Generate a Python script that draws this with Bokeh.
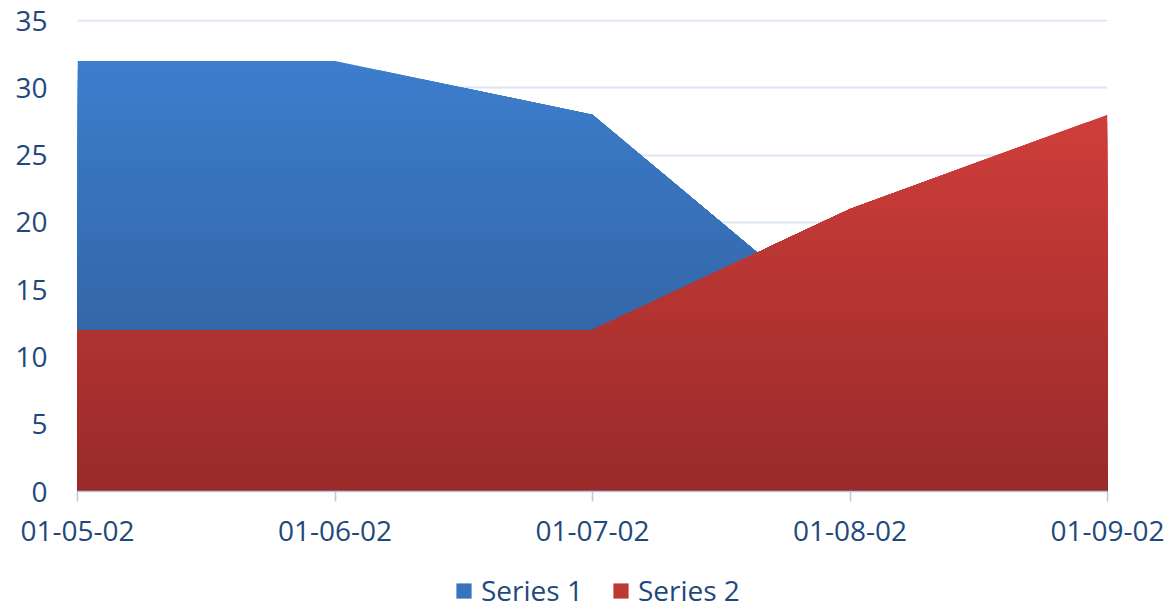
from bokeh.plotting import figure
from bokeh.layouts import column
from bokeh.models import Range1d, FixedTicker, Legend, LegendItem
from bokeh.embed import file_html
from bokeh.resources import INLINE

# ---- data ----
dates = ["01-05-02", "01-06-02", "01-07-02", "01-08-02", "01-09-02"]
series1 = [32, 32, 28, 12, 15]
series2 = [12, 12, 12, 21, 28]
series_names = ["Series 1", "Series 2"]
y_ticks = [0, 5, 10, 15, 20, 25, 30, 35]

# ---- style ----
FONT = "Open Sans"
TEXT = "#1F497D"
GRID = "#DCE6F2"
AXIS = "#B9C8DD"
# gradient (top colour, bottom colour) for each series
GRADS = [((60, 126, 205), (46, 89, 146)), ((207, 62, 58), (152, 42, 42))]
LEGEND_COLORS = ["#3873BE", "#BE3836"]
N_BANDS = 48

x = list(range(len(dates)))

p = figure(width=1168, height=560, output_backend="svg", toolbar_location=None,
           x_range=Range1d(0, len(dates) - 1), y_range=Range1d(0, 35.08),
           min_border_left=77, min_border_right=61, min_border_top=19,
           min_border_bottom=69)
p.outline_line_color = None
p.background_fill_color = "white"
p.border_fill_color = "white"


def capped(xs, ys, cap):
    """Exact polyline of min(y, cap), with crossing points added."""
    ox, oy = [], []
    for i in range(len(xs)):
        ox.append(xs[i]); oy.append(min(ys[i], cap))
        if i < len(xs) - 1:
            a, b = ys[i] - cap, ys[i + 1] - cap
            if a * b < 0:
                t = (cap - ys[i]) / (ys[i + 1] - ys[i])
                ox.append(xs[i] + t * (xs[i + 1] - xs[i])); oy.append(cap)
    return ox, oy


def lerp(c0, c1, f):
    return "#%02x%02x%02x" % tuple(int(round(c0[k] + (c1[k] - c0[k]) * f)) for k in range(3))


for s, (ctop, cbot) in zip([series1, series2], GRADS):
    top = max(s)
    step = top / N_BANDS
    for k in range(N_BANDS):
        cap = top - k * step
        f = (k + 0.5) / N_BANDS
        ox, oy = capped(x, s, cap)
        p.varea(x=ox, y1=[0] * len(ox), y2=oy, fill_color=lerp(ctop, cbot, f),
                fill_alpha=1.0)

# grid
p.xgrid.grid_line_color = None
p.ygrid.grid_line_color = GRID
p.ygrid.grid_line_width = 2
p.ygrid.ticker = FixedTicker(ticks=y_ticks)

# y axis
p.yaxis.ticker = FixedTicker(ticks=y_ticks)
p.yaxis.axis_line_color = None
p.yaxis.major_tick_line_color = None
p.yaxis.minor_tick_line_color = None
p.yaxis.major_tick_out = 0
p.yaxis.major_tick_in = 0
p.yaxis.major_label_standoff = 30
p.yaxis.major_label_text_font = FONT
p.yaxis.major_label_text_font_size = "28px"
p.yaxis.major_label_text_color = TEXT

# x axis
p.xaxis.ticker = FixedTicker(ticks=x)
p.xaxis.major_label_overrides = {i: d for i, d in zip(x, dates)}
p.xaxis.axis_line_color = AXIS
p.xaxis.axis_line_width = 1.5
p.xaxis.major_tick_line_color = AXIS
p.xaxis.major_tick_line_width = 1.5
p.xaxis.major_tick_out = 10
p.xaxis.major_tick_in = 0
p.xaxis.minor_tick_line_color = None
p.xaxis.major_label_standoff = 19
p.xaxis.major_label_text_font = FONT
p.xaxis.major_label_text_font_size = "28px"
p.xaxis.major_label_text_color = TEXT

# ---- legend strip ----
lg = figure(width=1168, height=49, output_backend="svg", toolbar_location=None,
            x_range=Range1d(0, 1), y_range=Range1d(0, 1),
            x_axis_location=None, y_axis_location=None,
            min_border_left=0, min_border_right=0, min_border_top=0,
            min_border_bottom=0)
lg.outline_line_color = None
lg.grid.grid_line_color = None
lg.background_fill_color = "white"
lg.border_fill_color = "white"
nan = float("nan")
items = []
for name, c in zip(series_names, LEGEND_COLORS):
    # placeholder renderer (draws nothing) so the legend has a swatch colour
    r = lg.varea(x=[nan], y1=[nan], y2=[nan], fill_color=c, fill_alpha=1.0)
    items.append(LegendItem(label=name, renderers=[r]))

legend = Legend(items=items, orientation="horizontal", location=(377, 0),
                glyph_width=19, glyph_height=19, label_standoff=8, spacing=28,
                padding=0, margin=0, border_line_color=None,
                background_fill_alpha=0,
                label_text_font=FONT, label_text_font_size="28px",
                label_text_color=TEXT)
lg.add_layout(legend, "center")

open("out.html", "w").write(file_html(column(p, lg, spacing=0), INLINE))
